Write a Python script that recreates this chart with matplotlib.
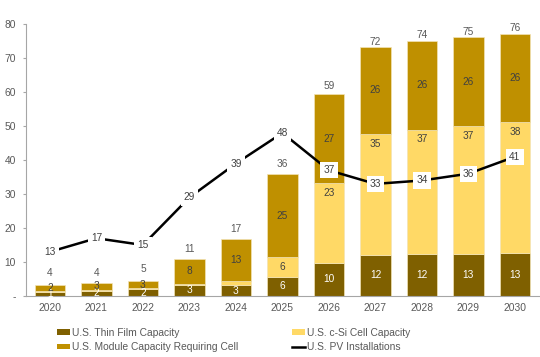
import matplotlib
matplotlib.use("Agg")
import matplotlib.pyplot as plt
import numpy as np
from matplotlib.patches import Patch
from matplotlib.lines import Line2D

plt.rcParams['font.family'] = ['Liberation Sans', 'DejaVu Sans']

years = ['2020', '2021', '2022', '2023', '2024', '2025', '2026', '2027', '2028', '2029', '2030']
thin_film = [1.2, 1.5, 1.95, 3.3, 3.1, 5.7, 9.7, 12.1, 12.35, 12.5, 12.6]
csi_cell = [0.3, 0.35, 0.25, 0.3, 1.3, 5.7, 23.5, 35.5, 36.65, 37.5, 38.5]
module_req = [1.8, 2.05, 2.3, 7.4, 12.45, 24.4, 26.3, 25.8, 26.2, 26.2, 26.1]
pv_install = [13, 17, 15, 29, 39, 48, 37, 33, 34, 36, 41]

thin_labels = ['1', '2', '2', '3', '3', '6', '10', '12', '12', '13', '13']
csi_labels = ['', '', '', '', '', '6', '23', '35', '37', '37', '38']
module_labels = ['2', '3', '3', '8', '13', '25', '27', '26', '26', '26', '26']
total_labels = [4, 4, 5, 11, 17, 36, 59, 72, 74, 75, 76]

c_thin = '#7f6000'
c_csi = '#ffd966'
c_mod = '#bf9000'
txt_dark = '#404040'
txt_gray = '#595959'

fig = plt.figure(figsize=(5.4, 3.57), dpi=100)
ax = fig.add_axes([0.0485, 0.171, 0.9515, 0.761])

x = np.arange(len(years))
w = 0.65
thin = np.array(thin_film)
csi = np.array(csi_cell)
mod = np.array(module_req)

ax.bar(x, thin, w, color=c_thin, edgecolor='#f3e3b5', linewidth=0.5, zorder=2)
ax.bar(x, csi, w, bottom=thin, color=c_csi, edgecolor='#f3e3b5', linewidth=0.5, zorder=2)
ax.bar(x, mod, w, bottom=thin + csi, color=c_mod, edgecolor='#f3e3b5', linewidth=0.5, zorder=2)

fs = 7.3
for i in range(len(years)):
    ax.text(x[i], thin[i] / 2, thin_labels[i], ha='center', va='center',
            color='white', fontsize=fs, zorder=4)
    if csi_labels[i]:
        ax.text(x[i], thin[i] + csi[i] - 2.8, csi_labels[i], ha='center', va='center',
                color=txt_dark, fontsize=fs, zorder=4)
    ax.text(x[i], thin[i] + csi[i] + mod[i] / 2, module_labels[i], ha='center', va='center',
            color=txt_dark, fontsize=fs, zorder=4)
    ax.text(x[i], total_labels[i] + 2.8, str(total_labels[i]), ha='center', va='center',
            color=txt_gray, fontsize=fs, zorder=4)

ax.plot(x, pv_install, color='black', linewidth=1.8, zorder=5)
for i in range(len(years)):
    ax.text(x[i], pv_install[i], str(pv_install[i]), ha='center', va='center',
            color=txt_dark, fontsize=fs, zorder=6,
            bbox=dict(boxstyle='square,pad=0.3', facecolor='white', edgecolor='none'))

ax.set_xlim(-0.51, 10.54)
ax.set_ylim(0, 80)
ax.set_xticks(x)
ax.set_xticklabels(years, fontsize=7.4, color=txt_gray)
ax.set_yticks([0, 10, 20, 30, 40, 50, 60, 70, 80])
ax.set_yticklabels(['-', '10', '20', '30', '40', '50', '60', '70', '80'], fontsize=7.4, color=txt_gray)
ax.tick_params(axis='x', length=0, pad=5)
ax.tick_params(axis='y', length=2.5, color='#a6a6a6', pad=5)
for s in ['top', 'right']:
    ax.spines[s].set_visible(False)
for s in ['left', 'bottom']:
    ax.spines[s].set_color('#a6a6a6')
    ax.spines[s].set_linewidth(0.8)

handles = [Patch(facecolor=c_thin, label='U.S. Thin Film Capacity'),
           Patch(facecolor=c_mod, label='U.S. Module Capacity Requiring Cell'),
           Patch(facecolor=c_csi, label='U.S. c-Si Cell Capacity'),
           Line2D([0], [0], color='black', linewidth=1.8, label='U.S. PV Installations')]
leg = fig.legend(handles=handles, ncol=2, loc='upper left', bbox_to_anchor=(0.106, 0.082),
                 frameon=False, fontsize=7.4, handlelength=1.25, handleheight=0.45,
                 handletextpad=0.2, columnspacing=5.2, labelspacing=0.45,
                 borderaxespad=0, borderpad=0)
for t in leg.get_texts():
    t.set_color(txt_gray)

fig.savefig('out.png', dpi=100)
